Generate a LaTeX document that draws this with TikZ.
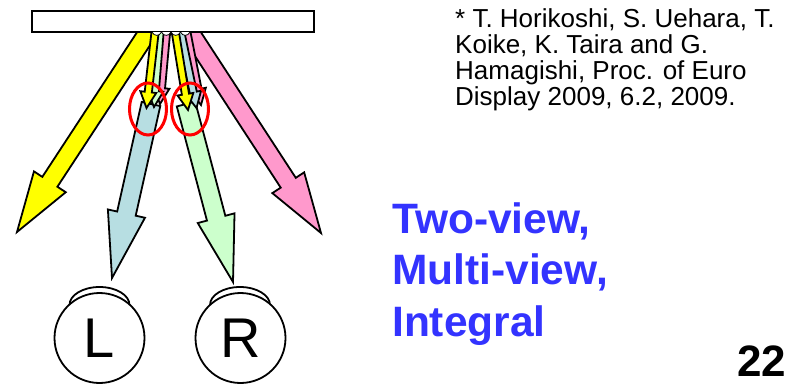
\documentclass[tikz,border=0pt]{standalone}
\usepackage{fontspec}
\setmainfont{Liberation Sans}
\usetikzlibrary{calc}

\definecolor{rayyellow}{HTML}{FFFF00}
\definecolor{raypink}{HTML}{FF99CC}
\definecolor{rayblue}{HTML}{B7DEE2}
\definecolor{raygreen}{HTML}{CCFFCC}
\definecolor{titleblue}{HTML}{3333FF}

% block arrow: colour, start, tip, shaft half width, head half width, head length
\newcommand{\lightray}[6]{%
  \coordinate (rs) at (#2);
  \coordinate (rt) at (#3);
  \coordinate (rh) at ($(rt)!#6!(rs)$);
  \filldraw[ray, fill=#1] ($(rs)!#4!90:(rt)$) -- ($(rh)!#4!90:(rt)$) -- ($(rh)!#5!90:(rt)$) -- (rt)
    -- ($(rh)!#5!-90:(rt)$) -- ($(rh)!#4!-90:(rt)$) -- ($(rs)!#4!-90:(rt)$) -- cycle;
}

\begin{document}
\begin{tikzpicture}[x=1pt, y=-1pt,
    ray/.style={draw=black, line width=1.8pt},
    panel/.style={draw=black, fill=white, line width=2.4pt},
    lens/.style={draw=black, fill=white, line width=0.8pt},
    focus/.style={draw=red, line width=3pt},
    lid/.style={draw=black, fill=white, line width=1.8pt},
    eyeball/.style={circle, draw=black, fill=white, line width=1.8pt, minimum size=90pt,
      inner sep=0pt, font=\fontsize{56}{56}\selectfont},
    cite/.style={anchor=base west, inner sep=0pt, font=\fontsize{26}{26}\selectfont},
    kind/.style={anchor=base west, inner sep=0pt, text=titleblue,
      font=\fontsize{42.5}{42.5}\selectfont\bfseries},
  ]
  \useasboundingbox (0,0) rectangle (798,383);

  % wide rays
  \lightray{rayyellow}{154.5,22}{17,232}{9pt}{19pt}{60pt}
  \lightray{raypink}{183.5,22}{321,233}{9pt}{19pt}{60pt}
  \lightray{rayblue}{151,104}{112,278}{9.5pt}{19pt}{66pt}
  \lightray{raygreen}{186,104}{233,282}{9.5pt}{19pt}{66pt}

  % narrow rays, left bundle
  \lightray{raypink}{167.3,24}{160,104}{3.6pt}{8pt}{16pt}
  \lightray{raygreen}{160.7,24}{154,107}{3.6pt}{8pt}{16pt}
  \lightray{rayyellow}{156,24}{146.5,108}{3.6pt}{8pt}{16pt}
  % narrow rays, right bundle
  \lightray{raypink}{185.3,24}{201,105}{3.6pt}{8pt}{16pt}
  \lightray{rayblue}{179.1,24}{196.5,108}{3.6pt}{8pt}{16pt}
  \lightray{rayyellow}{174,24}{188,110}{3.6pt}{8pt}{16pt}

  % display panel and lenses
  \draw[panel] (32,11) rectangle (314,32);
  \foreach \x in {152,161.5,171,180.5}
    \draw[lens] (\x,32) .. controls (\x+2,36.5) and (\x+7.5,36.5) .. (\x+9.5,32);

  \draw[focus] (148,109) ellipse[x radius=18.5pt, y radius=26pt];
  \draw[focus] (190,109) ellipse[x radius=18.5pt, y radius=26pt];

  % eyes
  \draw[lid] (99.5,305) ellipse[x radius=30pt, y radius=18pt];
  \draw[lid] (240,305) ellipse[x radius=30pt, y radius=18pt];
  \node[eyeball] (eyeL) at (99.5,338) {L};
  \node[eyeball] (eyeR) at (240.5,338) {R};

  \node[cite] (cite1) at (455,27.5) {* T. Horikoshi, S. Uehara, T.};
  \node[cite] (cite2) at (455,53.5) {Koike, K. Taira and G.};
  \node[cite] (cite3) at (455,79.5) {Hamagishi, Proc. of Euro};
  \node[cite] (cite4) at (455,105.5) {Display 2009, 6.2, 2009.};

  \node[kind] (two) at (392,233) {Two-view,};
  \node[kind] (multi) at (392,284.5) {Multi-view,};
  \node[kind] (integral) at (392,336) {Integral};

  \node[anchor=base west, inner sep=0pt, font=\fontsize{44}{44}\selectfont\bfseries]
    (page) at (737,376.5) {22};
\end{tikzpicture}
\end{document}
